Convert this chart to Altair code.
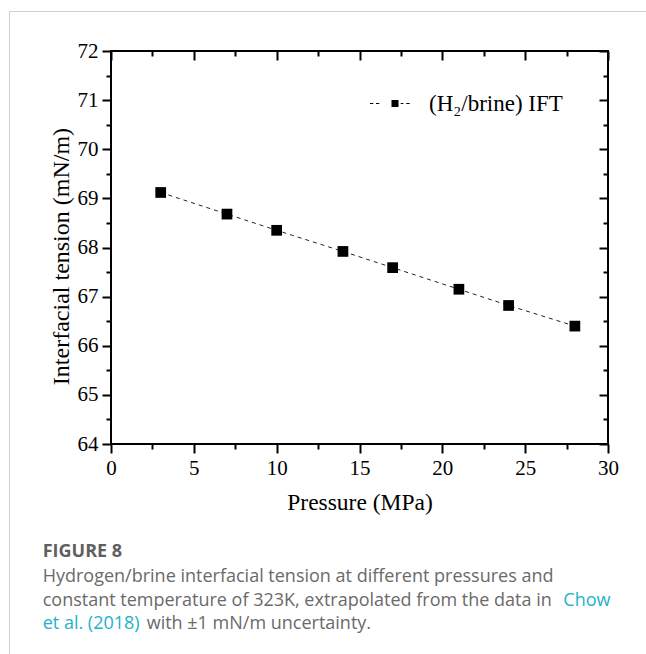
import altair as alt
import pandas as pd

# ---- data ----
pressure = [3, 7, 10, 14, 17, 21, 24, 28]
ift = [69.12, 68.68, 68.35, 67.92, 67.59, 67.15, 66.82, 66.40]
series_name = "(H\u2082/brine) IFT"

x_major = [0, 5, 10, 15, 20, 25, 30]
x_minor = [2.5, 7.5, 12.5, 17.5, 22.5, 27.5]
y_major = [64, 65, 66, 67, 68, 69, 70, 71, 72]
y_minor = [64.5, 65.5, 66.5, 67.5, 68.5, 69.5, 70.5, 71.5]
x_domain = [0, 30]
y_domain = [64, 72]

x_title = "Pressure (MPa)"
y_title = "Interfacial tension (mN/m)"

cap_head = "FIGURE 8"
cap_line1 = "Hydrogen/brine interfacial tension at different pressures and"
cap_line2a = "constant temperature of 323K, extrapolated from the data in"
cap_line2b = "Chow"
cap_line3a = "et al. (2018)"
cap_line3b = "with \u00b11 mN/m uncertainty."

df = pd.DataFrame({"P": pressure, "IFT": ift, "series": [series_name] * len(pressure)})

W, H = 497, 393
SERIF = "Liberation Serif"
SANS = "Open Sans"
GRAY = "#6a6a6a"
CYAN = "#22b2c9"

xs = alt.Scale(domain=x_domain, nice=False, zero=False)
ys = alt.Scale(domain=y_domain, nice=False, zero=False)


def tick_axis(orient, values, size, offset=0):
    return alt.Axis(orient=orient, values=values, tickSize=size, offset=offset,
                    labels=False, domain=False, grid=False, ticks=True,
                    tickColor="black", tickWidth=2)


LEGEND_PATH = ("M-1,-1H1V1H-1Z "
               "M-7.14,-0.15H-6.2V0.15H-7.14Z "
               "M-5.43,-0.15H-4.49V0.15H-5.43Z "
               "M1.63,-0.15H2.37V0.15H1.63Z "
               "M3.23,-0.15H4.2V0.15H3.23Z")

line = alt.Chart(df).mark_line(color="#222222", strokeWidth=1, strokeDash=[4, 4]).encode(
    x=alt.X("P:Q", scale=xs, axis=alt.Axis(
        orient="bottom", values=x_major, format="d", tickSize=9, tickWidth=2, tickColor="black",
        domain=False, grid=False, labelFlush=False, labelOverlap=False,
        labelFont=SERIF, labelFontSize=21, labelColor="black", labelPadding=4,
        title=x_title, titleFont=SERIF, titleFontSize=23.5, titleFontWeight="normal",
        titleColor="black", titleX=W / 2, titleY=58, titleBaseline="middle", titleAlign="center")),
    y=alt.Y("IFT:Q", scale=ys, axis=alt.Axis(
        orient="left", values=y_major, format="d", tickSize=9, tickWidth=2, tickColor="black",
        domain=False, grid=False, labelFlush=False, labelOverlap=False,
        labelFont=SERIF, labelFontSize=21, labelColor="black", labelPadding=4,
        title=y_title, titleFont=SERIF, titleFontSize=24, titleFontWeight="normal",
        titleColor="black", titleX=-50, titleY=205, titleAngle=270,
        titleBaseline="middle", titleAlign="center")),
)

pts = alt.Chart(df).mark_square(size=115, opacity=1, filled=True).encode(
    x=alt.X("P:Q", scale=xs, axis=tick_axis("bottom", x_minor, 5), title=None),
    y=alt.Y("IFT:Q", scale=ys, axis=tick_axis("left", y_minor, 5), title=None),
    color=alt.Color("series:N", scale=alt.Scale(range=["black"]), legend=alt.Legend(
        title=None, orient="none", legendX=272.5, legendY=41, padding=0,
        symbolType=LEGEND_PATH, symbolSize=49, symbolFillColor="black",
        symbolStrokeWidth=0, symbolOffset=0, labelOffset=22.5,
        labelFont=SERIF, labelFontSize=23, labelColor="black")),
)

top_right_major = alt.Chart(df).mark_point(opacity=0).encode(
    x=alt.X("P:Q", scale=xs, axis=tick_axis("top", x_major, 9, -9), title=None),
    y=alt.Y("IFT:Q", scale=ys, axis=tick_axis("right", y_major, 9, -9), title=None),
)

top_right_minor = alt.Chart(df).mark_point(opacity=0).encode(
    x=alt.X("P:Q", scale=xs, axis=tick_axis("top", x_minor, 5, -5), title=None),
    y=alt.Y("IFT:Q", scale=ys, axis=tick_axis("right", y_minor, 5, -5), title=None),
)

one = pd.DataFrame({"k": [0]})
border_left = alt.Chart(one).mark_rule(color="#cfcfcf", strokeWidth=1).encode(
    x=alt.value(-101.5), y=alt.value(-39.5), y2=alt.value(603))
border_top = alt.Chart(one).mark_rule(color="#cfcfcf", strokeWidth=1).encode(
    x=alt.value(-101.5), x2=alt.value(535), y=alt.value(-39.5))


def cap(text, x, y, color, weight="normal"):
    return alt.Chart(pd.DataFrame({"t": [text]})).mark_text(
        align="left", baseline="alphabetic", font=SANS, fontSize=18,
        fontWeight=weight, color=color).encode(
        text="t:N", x=alt.value(x), y=alt.value(y))


caps = [
    cap(cap_head, -68.3, 505.7, "#5f5f5f", "bold"),
    cap(cap_line1, -68.3, 531.3, GRAY),
    cap(cap_line2a, -68.3, 555, GRAY),
    cap(cap_line2b, 452.3, 555, CYAN),
    cap(cap_line3a, -68.3, 578.3, CYAN),
    cap(cap_line3b, 35.7, 578.3, GRAY),
]

chart = alt.layer(
    border_left, border_top, line, pts, top_right_major, top_right_minor, *caps
).resolve_scale(x="independent", y="independent").properties(
    width=W, height=H,
    autosize=alt.AutoSizeParams(type="none"),
    padding={"left": 111, "top": 51, "right": 38, "bottom": 210},
    background="white",
).configure_view(stroke="black", strokeWidth=2)

chart.save("out.html", embed_options={"renderer": "svg", "actions": False})
